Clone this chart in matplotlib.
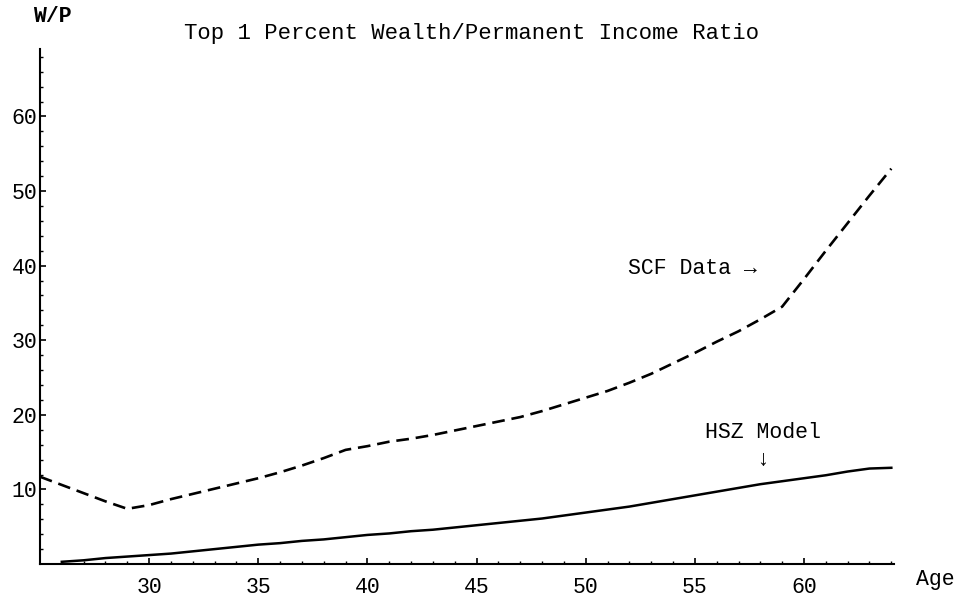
# top 1 percent wealth / permanent income ratio by age, SCF data vs HSZ model

import numpy as np
import matplotlib
matplotlib.use('Agg')
import matplotlib.pyplot as plt

# ages
ageSCF = np.arange(25, 65)
ageHSZ = np.arange(26, 65)

# SCF data (dashed)
scfData = [11.7, 10.6, 9.5, 8.4, 7.4, 7.9, 8.7, 9.4, 10.1, 10.8,
	11.5, 12.3, 13.2, 14.2, 15.3, 15.8, 16.4, 16.8, 17.3, 17.9,
	18.5, 19.1, 19.7, 20.5, 21.4, 22.3, 23.2, 24.3, 25.5, 26.9,
	28.3, 29.8, 31.2, 32.8, 34.5, 38.2, 42.0, 45.7, 49.4, 53.0]

# HSZ model (solid)
hszModel = [0.3, 0.5, 0.8, 1.0, 1.2, 1.4, 1.7, 2.0, 2.3,
	2.6, 2.8, 3.1, 3.3, 3.6, 3.9, 4.1, 4.4, 4.6, 4.9,
	5.2, 5.5, 5.8, 6.1, 6.5, 6.9, 7.3, 7.7, 8.2, 8.7,
	9.2, 9.7, 10.2, 10.7, 11.1, 11.5, 11.9, 12.4, 12.8, 12.9]

xTicks = [30, 35, 40, 45, 50, 55, 60]
yTicks = [10, 20, 30, 40, 50, 60]

fontFam = ['Liberation Mono', 'DejaVu Sans Mono']
fs = 15.5

fig = plt.figure(figsize=(9.59, 6.07), dpi=100)
ax = fig.add_axes([0.0417, 0.0708, 0.890, 0.848])

ax.plot(ageSCF, scfData, color='black', lw=1.9, dashes=(4.8, 2.6), clip_on=False)
ax.plot(ageHSZ, hszModel, color='black', lw=1.8, clip_on=False)

ax.set_xlim(25, 64.1)
ax.set_ylim(0, 69)

# mathematica style axes: only the two crossing lines
for s in ['top', 'right']:
	ax.spines[s].set_visible(False)
for s in ['left', 'bottom']:
	ax.spines[s].set_linewidth(1.5)

ax.set_xticks(xTicks)
ax.set_xticks(np.arange(26, 65), minor=True)
ax.set_yticks(yTicks)
ax.set_yticks(np.arange(2, 69, 2), minor=True)
ax.tick_params(which='major', direction='in', length=4, width=1.2)
ax.tick_params(which='minor', direction='in', length=2.3, width=1.0)
ax.tick_params(axis='x', which='major', pad=9)
ax.tick_params(axis='y', which='major', pad=2)
for lab in ax.get_xticklabels() + ax.get_yticklabels():
	lab.set_family(fontFam)
	lab.set_fontsize(fs)

# labels
fig.text(472/959., 1 - 33/607., 'Top 1 Percent Wealth/Permanent Income Ratio',
	ha='center', va='center', family=fontFam, fontsize=16)
fig.text(52/959., 1 - 17/607., 'W/P', ha='center', va='center',
	family=fontFam, fontsize=fs, fontweight='bold')
fig.text(935/959., 1 - 580/607., 'Age', ha='center', va='center',
	family=fontFam, fontsize=fs)

ax.text(54.9, 39.6, 'SCF Data \u2192', ha='center', va='center',
	family=fontFam, fontsize=fs)
ax.text(58.1, 17.6, 'HSZ Model', ha='center', va='center',
	family=fontFam, fontsize=fs)
ax.text(58.1, 14.0, '\u2193', ha='center', va='center',
	family=fontFam, fontsize=fs)

fig.savefig('out.png', dpi=100)
